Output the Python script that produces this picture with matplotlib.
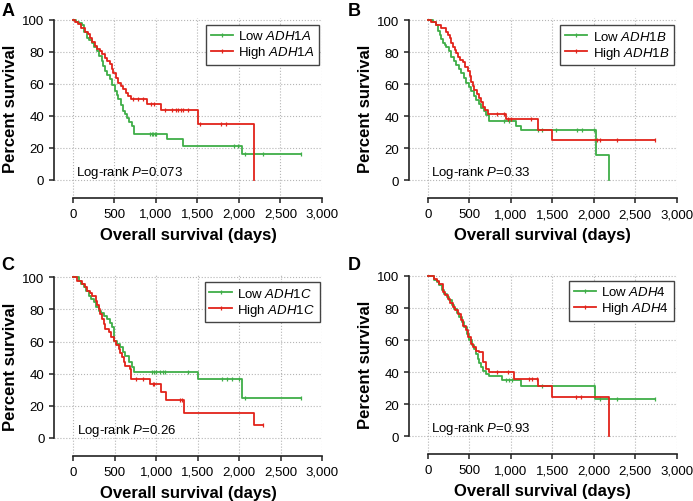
import numpy as np
import matplotlib
matplotlib.use("Agg")
import matplotlib.pyplot as plt
from matplotlib.lines import Line2D
from matplotlib.ticker import FuncFormatter

plt.rcParams['font.family'] = 'Liberation Sans'
plt.rcParams['mathtext.fontset'] = 'custom'
plt.rcParams['mathtext.rm'] = 'Liberation Sans'
plt.rcParams['mathtext.it'] = 'Liberation Sans:italic'

GREEN = '#3fae48'
RED = '#e2231a'

# Panel A - ADH1A
a_low_days = [0, 40, 70, 104, 135, 165, 195, 225, 255, 285, 315, 345, 365, 385, 415, 446, 476, 506, 530, 546,
              575, 606, 630, 647, 680, 707, 735, 1128, 1329, 2032, 2743]
a_low_surv = [100, 98.9, 97.8, 96.6, 92.5, 89, 87.5, 85.8, 83, 80.6, 77.5, 74.4, 71, 68, 65.5, 62.9, 59.3, 55.6, 53, 50.4,
              46.7, 43, 41, 39, 36.3, 33.7, 28.5, 25.4, 21.2, 16.4, 16.4]
a_low_cens = [930, 950, 970, 990, 1005, 1944, 1992, 2072, 2290, 2743]
a_high_days = [0, 30, 64, 100, 145, 175, 205, 235, 265, 295, 325, 355, 385, 415, 446, 466, 486, 516, 546, 576,
               606, 636, 667, 695, 888, 1060, 1510, 2181]
a_high_surv = [100, 98.5, 97.3, 95, 92.7, 91, 89, 86.5, 83.7, 82, 80.6, 78.5, 76.4, 74.5, 72.3, 69.5, 67, 64, 60.8, 58.7,
               56.6, 54.5, 52.5, 50.4, 47.7, 43.7, 34.8, 0]
a_high_cens = [727, 779, 847, 940, 980, 1109, 1197, 1237, 1269, 1301, 1329, 1382, 1530, 1783, 1839]

# Panel B - ADH1B
b_low_days = [0, 64, 104, 124, 144, 164, 184, 204, 224, 254, 284, 314, 344, 374, 404, 434, 464, 494, 523, 553,
              583, 613, 643, 673, 703, 743, 1062, 1122, 2029, 2180]
b_low_surv = [100, 99, 97, 93.5, 90.8, 88, 85.7, 84.5, 83.6, 80.5, 77.3, 74.7, 72.1, 69.5, 67, 63.8, 60.7, 58, 55.5, 52.9,
              50.3, 47.7, 45.1, 43, 41, 36.8, 33.7, 31.2, 15.6, 0]
b_low_cens = [920, 980, 1330, 1382, 1542, 1793, 1853, 2001]
b_high_days = [0, 44, 104, 164, 224, 244, 264, 284, 304, 324, 344, 364, 384, 424, 454, 484, 504, 523, 543, 563,
               593, 623, 643, 663, 693, 723, 943, 1330, 1502, 2743]
b_high_surv = [100, 99, 97, 95.4, 92.9, 91, 88.8, 86, 83.6, 81.5, 79.4, 77.3, 75.2, 74.2, 71, 68, 65, 61.7, 59, 56.5,
               54, 51.3, 48.8, 46.1, 44, 41.5, 38.5, 31.2, 25.2, 25.2]
b_high_cens = [835, 915, 963, 1003, 1242, 2041, 2081, 2280, 2743]

# Panel C - ADH1C
c_low_days = [0, 68, 98, 128, 158, 188, 218, 248, 278, 308, 338, 368, 408, 438, 468, 488, 528, 568, 598, 629,
              669, 709, 737, 1502, 2031, 2743]
c_low_surv = [100, 97.9, 95.8, 93.8, 91.2, 88.6, 86.5, 84.4, 81.8, 79.2, 77.6, 76.1, 74, 71.4, 68.8, 60.5, 58.5, 56.4, 53.8, 51.2,
              47, 43.9, 41.2, 36.8, 24.6, 24.6]
c_low_cens = [950, 975, 1000, 1040, 1080, 1110, 1382, 1790, 1850, 1910, 1998, 2070, 2743]
c_high_days = [0, 48, 108, 138, 168, 198, 228, 268, 288, 308, 328, 348, 368, 388, 428, 458, 488, 518, 548, 568,
               588, 610, 629, 689, 701, 929, 1057, 1121, 1330, 2183, 2290]
c_high_surv = [100, 97.9, 95.8, 93.7, 91.7, 90, 88.6, 85.5, 83, 80.3, 77, 74, 71, 67.8, 65.7, 63, 60.5, 58, 55.3, 52.7,
               50.1, 47.5, 44.9, 42.9, 36.6, 33.5, 28.3, 23.7, 15.4, 8.2, 8.2]
c_high_cens = [761, 837, 957, 969, 1282, 1310, 2290]

# Panel D - ADH4
d_low_days = [0, 80, 110, 140, 170, 200, 230, 260, 290, 320, 350, 380, 410, 440, 470, 500, 530, 560, 580, 600,
              620, 640, 670, 700, 740, 900, 1120, 2020, 2743]
d_low_surv = [100, 97.7, 96, 94.1, 91.5, 88.9, 86.9, 84.8, 82.2, 79.6, 77, 74.4, 71.3, 68.1, 64, 59.8, 57.2, 54.6, 51.5, 48.3,
              45.7, 43.1, 41, 38.9, 37.5, 35.2, 31.2, 23.3, 23.3]
d_low_cens = [940, 980, 1020, 1380, 2000, 2080, 2280, 2743]
d_high_days = [0, 80, 110, 140, 180, 210, 240, 270, 300, 330, 360, 400, 430, 460, 490, 520, 550, 580, 620, 660,
               700, 740, 1040, 1330, 1500, 2180]
d_high_surv = [100, 98.3, 96.8, 95.2, 90, 88, 85.8, 83, 80.6, 78.5, 76.4, 72.3, 69, 66, 62, 57.7, 55.6, 53.5, 52.5, 46.2,
               42, 39.8, 36, 31.2, 24.4, 0]
d_high_cens = [840, 968, 1220, 1260, 1320, 1792, 1852]

panel_letters = ['A', 'B', 'C', 'D']
gene_names = ['ADH1A', 'ADH1B', 'ADH1C', 'ADH4']
p_values = ['0.073', '0.33', '0.26', '0.93']
x_ticks = [0, 500, 1000, 1500, 2000, 2500, 3000]
y_ticks = [0, 20, 40, 60, 80, 100]


def surv_at(days, surv, t):
    idx = np.searchsorted(days, t, side='right') - 1
    return np.asarray(surv)[idx]


def draw_curve(ax, days, surv, cens, color):
    ax.step(days, surv, where='post', color=color, lw=1.3, zorder=3)
    cy = surv_at(days, surv, cens)
    ax.plot(cens, cy, ls='none', marker='|', ms=3.2, mew=0.9, color=color, zorder=3)


def draw_panel(ax, letter, gene, pval, low, high):
    draw_curve(ax, *low, GREEN)
    draw_curve(ax, *high, RED)

    ax.set_xlim(-229, 3000)
    ax.set_ylim(-11.25, 101.5)
    ax.set_xticks(x_ticks)
    ax.set_yticks(y_ticks)
    ax.xaxis.set_major_formatter(FuncFormatter(lambda v, p: f'{v:,.0f}'))
    ax.tick_params(labelsize=9.5, length=3.5, width=1.1, direction='out', color='#222222')
    ax.grid(True, ls=':', color='#b5b5b5', lw=0.8, zorder=0)
    for s in ['top', 'right']:
        ax.spines[s].set_visible(False)
    ax.spines['left'].set_bounds(0, 100)
    ax.spines['bottom'].set_bounds(0, 3000)
    for s in ['left', 'bottom']:
        ax.spines[s].set_linewidth(1.2)
        ax.spines[s].set_color('#222222')

    ax.set_ylabel('Percent survival', fontsize=12, fontweight='bold', labelpad=3)
    ax.set_xlabel('Overall survival (days)', fontsize=12, fontweight='bold', labelpad=5)
    ax.text(40, 5, f'Log-rank $P$=' + pval, fontsize=9.5, va='center', ha='left')

    handles = [Line2D([], [], color=GREEN, lw=1.3, marker='|', ms=3.2, mew=0.9),
               Line2D([], [], color=RED, lw=1.3, marker='|', ms=3.2, mew=0.9)]
    labels = [f'Low $\\it{{{gene}}}$', f'High $\\it{{{gene}}}$']
    leg = ax.legend(handles, labels, loc='upper right', bbox_to_anchor=(0.99, 0.96), borderaxespad=0,
                    fontsize=9.5, fancybox=False, framealpha=1, edgecolor='#444444', numpoints=1,
                    handlelength=1.7, handletextpad=0.4, labelspacing=0.15, borderpad=0.35)
    leg.get_frame().set_linewidth(1.0)


fig = plt.figure(figsize=(6.93, 5.02), dpi=100)
positions = [[0.0779, 0.6036, 0.3867, 0.3594],
             [0.5898, 0.6030, 0.3867, 0.3594],
             [0.0783, 0.0896, 0.3867, 0.3608],
             [0.5898, 0.0930, 0.3867, 0.3600]]
letter_pos = [(0.002, 0.978), (0.502, 0.978), (0.002, 0.471), (0.502, 0.471)]

curves = [((a_low_days, a_low_surv, a_low_cens), (a_high_days, a_high_surv, a_high_cens)),
          ((b_low_days, b_low_surv, b_low_cens), (b_high_days, b_high_surv, b_high_cens)),
          ((c_low_days, c_low_surv, c_low_cens), (c_high_days, c_high_surv, c_high_cens)),
          ((d_low_days, d_low_surv, d_low_cens), (d_high_days, d_high_surv, d_high_cens))]

for i in range(4):
    ax = fig.add_axes(positions[i])
    draw_panel(ax, panel_letters[i], gene_names[i], p_values[i], curves[i][0], curves[i][1])
    fig.text(letter_pos[i][0], letter_pos[i][1], panel_letters[i], fontsize=13, fontweight='bold',
             ha='left', va='center')

fig.savefig('out.png', dpi=100)
